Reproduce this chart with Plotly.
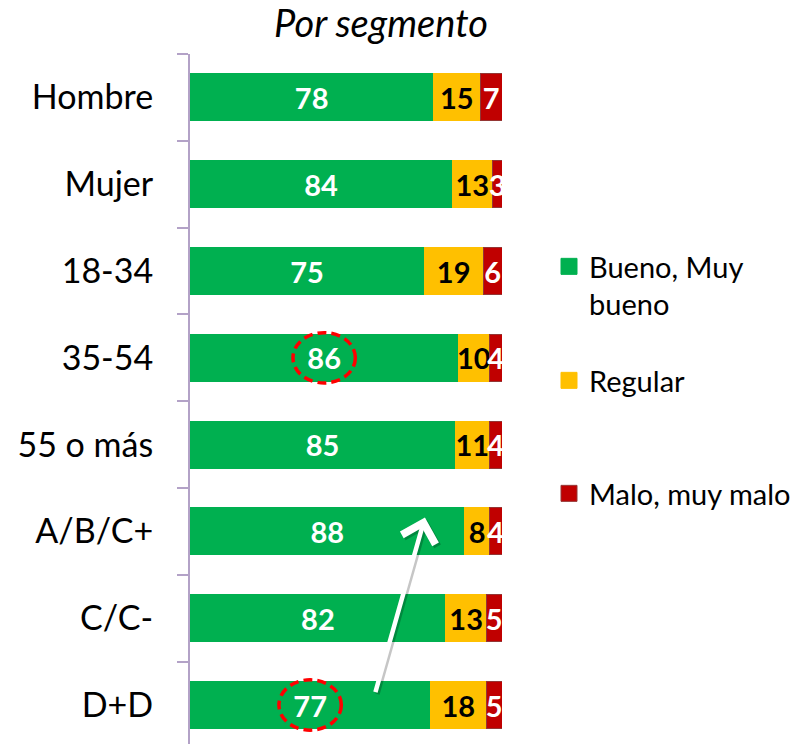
import plotly.graph_objects as go

categories = ["Hombre", "Mujer", "18-34", "35-54", "55 o más", "A/B/C+", "C/C-", "D+D"]
bueno = [78, 84, 75, 86, 85, 88, 82, 77]
regular = [15, 13, 19, 10, 11, 8, 13, 18]
malo = [7, 3, 6, 4, 4, 4, 5, 5]
series_names = ["Bueno, Muy<br>bueno", "Regular", "Malo, muy malo"]
colors = ["#00B050", "#FFC000", "#C00000"]
text_colors = ["white", "black", "white"]
title_text = "Por segmento"
highlight = ["35-54", "D+D"]

FONT = "Lato"
W, H = 808, 744
L, R, T, B = 190, 306, 54, 0

fig = go.Figure()
for vals, name, col, tcol in zip([bueno, regular, malo], series_names, colors, text_colors):
    fig.add_trace(go.Bar(
        y=categories, x=vals, orientation="h", name=name,
        marker=dict(color=col, line=dict(color="#943634" if col == "#C00000" else col, width=1)),
        text=vals, textposition="inside", insidetextanchor="middle",
        textfont=dict(family=FONT, size=29, color=tcol, weight="bold"),
        showlegend=False, hoverinfo="skip", cliponaxis=False,
    ))

# legend entries (one legend each to place them freely)
legend_names = ["legend", "legend2", "legend3"]
for name, col, lg in zip(series_names, colors, legend_names):
    fig.add_trace(go.Scatter(
        x=[None], y=[None], mode="markers", name=name, legend=lg,
        marker=dict(symbol="square", size=16, color=col,
                    line=dict(color="#943634" if col == "#C00000" else col, width=1)),
        showlegend=True,
    ))

plot_h = H - T - B
def py(pix):
    return (H - pix) / plot_h
def px(pix):
    return (pix - L) / (W - L - R)

leg_common = dict(font=dict(family=FONT, size=29, color="black"), bgcolor="rgba(0,0,0,0)",
                  xanchor="left", yanchor="top", valign="top", itemsizing="trace")
fig.update_layout(
    legend=dict(x=px(549), y=py(241), **leg_common),
    legend2=dict(x=px(549), y=py(355), **leg_common),
    legend3=dict(x=px(549), y=py(468), **leg_common),
)

# highlight ellipses around selected values
for cat in highlight:
    i = categories.index(cat)
    cx = bueno[i] / 2
    fig.add_shape(type="circle", xref="x", yref="y",
                  x0=cx - 10, x1=cx + 10, y0=i - 0.29, y1=i + 0.29,
                  line=dict(color="#FF0000", width=3.5, dash="9px,5px"))

# arrow from D+D to A/B/C+
i_from = categories.index("D+D")
i_to = categories.index("A/B/C+")
for shift, col in [(2, "rgba(0,0,0,0.22)"), (0, "white")]:
    fig.add_annotation(x=75.3, y=i_to - 0.16, ax=59.3, ay=i_from - 0.13,
                       xref="x", yref="y", axref="x", ayref="y",
                       text="", showarrow=True, arrowhead=4, arrowsize=1.5,
                       arrowwidth=4.5, arrowcolor=col, xshift=shift, yshift=-shift)

fig.update_layout(
    width=W, height=H,
    margin=dict(l=L, r=R, t=T, b=B),
    paper_bgcolor="white", plot_bgcolor="white",
    barmode="stack", bargap=0.46,
    title=dict(text=title_text, x=381 / W, xanchor="center", xref="container",
               y=1 - 24 / H, yanchor="middle",
               font=dict(family=FONT, size=38, color="black", style="italic")),
    xaxis=dict(range=[0, 100], visible=False, fixedrange=True),
    yaxis=dict(type="category", categoryorder="array", categoryarray=categories,
               range=[7 + (H - 705) / 86.8, -0.5],
               showline=True, linecolor="#B3A2C7", linewidth=2,
               ticks="outside", tickson="boundaries", ticklen=11, tickcolor="#B3A2C7", tickwidth=2,
               ticklabelstandoff=28,
               tickfont=dict(family=FONT, size=34, color="black"),
               showgrid=False, zeroline=False, fixedrange=True),
    uniformtext=dict(mode="show", minsize=29),
)

fig.write_html("out.html", config={"displayModeBar": False},
               post_script="document.body.style.margin='0';")
